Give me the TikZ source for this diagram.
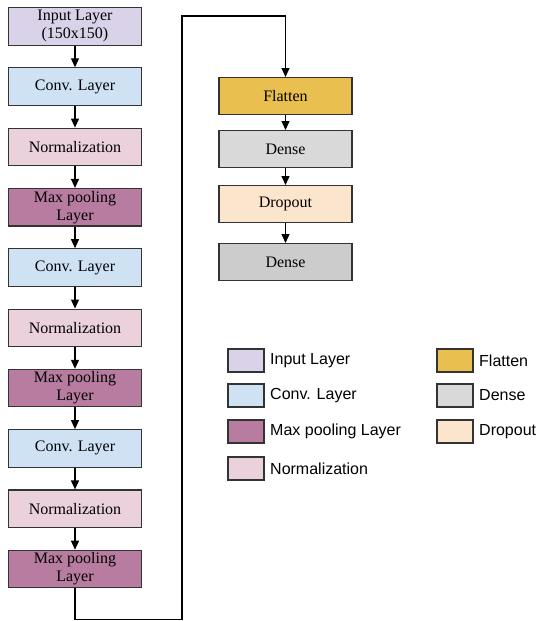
\documentclass[tikz,border=0pt]{standalone}
\usepackage{fontspec}
\setmainfont{Liberation Serif}
\newfontfamily\legendfont{Liberation Sans}
\usetikzlibrary{arrows.meta}

\definecolor{boxline}{HTML}{333333}
\definecolor{cInput}{HTML}{D9D2E9}
\definecolor{cConv}{HTML}{CFE2F3}
\definecolor{cNorm}{HTML}{EAD1DC}
\definecolor{cPool}{HTML}{B77C9F}
\definecolor{cFlat}{HTML}{E9C050}
\definecolor{cDenseA}{HTML}{D9D9D9}
\definecolor{cDrop}{HTML}{FCE5CD}
\definecolor{cDenseB}{HTML}{CCCCCC}

\begin{document}
\begin{tikzpicture}[x=1pt,y=-1pt,
  layer/.style={draw=boxline, line width=1.1pt, minimum width=133pt,
    minimum height=37.5pt, inner sep=0pt, align=center, anchor=north,
    font=\fontsize{16}{18}\selectfont},
  flow/.style={draw=black, line width=1.2pt, line join=miter,
    -{Triangle[length=9pt,width=8pt]}},
  swatch/.style={draw=boxline, line width=1.1pt, minimum width=36pt,
    minimum height=23pt, inner sep=0pt},
  legtext/.style={anchor=west, inner sep=0pt,
    font=\legendfont\fontsize{16}{18}\selectfont}]

\useasboundingbox (0,0) rectangle (538,621);

% feature-extraction column
\node[layer, fill=cInput] (in1) at (75,7)   {Input Layer\\(150x150)};
\node[layer, fill=cConv]  (cv1) at (75,67.3)  {Conv. Layer};
\node[layer, fill=cNorm]  (nm1) at (75,127.6) {Normalization};
\node[layer, fill=cPool]  (mp1) at (75,187.9) {Max pooling\\Layer};
\node[layer, fill=cConv]  (cv2) at (75,248.2) {Conv. Layer};
\node[layer, fill=cNorm]  (nm2) at (75,308.5) {Normalization};
\node[layer, fill=cPool]  (mp2) at (75,368.8) {Max pooling\\Layer};
\node[layer, fill=cConv]  (cv3) at (75,429.1) {Conv. Layer};
\node[layer, fill=cNorm]  (nm3) at (75,489.4) {Normalization};
\node[layer, fill=cPool]  (mp3) at (75,549.7) {Max pooling\\Layer};

% classifier column
\node[layer, fill=cFlat,   minimum height=37pt] (fl)  at (285.5,77)  {Flatten};
\node[layer, fill=cDenseA, minimum height=37pt] (dn1) at (285.5,130) {Dense};
\node[layer, fill=cDrop,   minimum height=37pt] (dr)  at (285.5,185) {Dropout};
\node[layer, fill=cDenseB, minimum height=37pt] (dn2) at (285.5,243) {Dense};

% connections
\draw[flow] (in1) -- (cv1);
\draw[flow] (cv1) -- (nm1);
\draw[flow] (nm1) -- (mp1);
\draw[flow] (mp1) -- (cv2);
\draw[flow] (cv2) -- (nm2);
\draw[flow] (nm2) -- (mp2);
\draw[flow] (mp2) -- (cv3);
\draw[flow] (cv3) -- (nm3);
\draw[flow] (nm3) -- (mp3);

\coordinate (b1) at (75,619.5);
\coordinate (b2) at (182,619.5);
\coordinate (t1) at (182,16);
\coordinate (t2) at (285.5,16);
\draw[flow] (mp3.south) -- (b1) -- (b2) -- (t1) -- (t2) -- (fl.north);

\draw[flow] (fl) -- (dn1);
\draw[flow] (dn1) -- (dr);
\draw[flow] (dr) -- (dn2);

% legend
\node[swatch, fill=cInput] (k1) at (246,360.5) {};
\node[swatch, fill=cConv]  (k2) at (246,395.5) {};
\node[swatch, fill=cPool]  (k3) at (246,431.5) {};
\node[swatch, fill=cNorm]  (k4) at (246,468.5) {};
\node[legtext] (l1) at (270,360.5) {Input Layer};
\node[legtext] (l2) at (270,395.5) {Conv. Layer};
\node[legtext] (l3) at (270,431.5) {Max pooling Layer};
\node[legtext] (l4) at (270,468.5) {Normalization};

\node[swatch, fill=cFlat]   (k5) at (455,360.5) {};
\node[swatch, fill=cDenseA] (k6) at (455,395.5) {};
\node[swatch, fill=cDrop]   (k7) at (455,431.5) {};
\node[legtext] (l5) at (479,360.5) {Flatten};
\node[legtext] (l6) at (479,395.5) {Dense};
\node[legtext] (l7) at (479,431.5) {Dropout};
\end{tikzpicture}
\end{document}
